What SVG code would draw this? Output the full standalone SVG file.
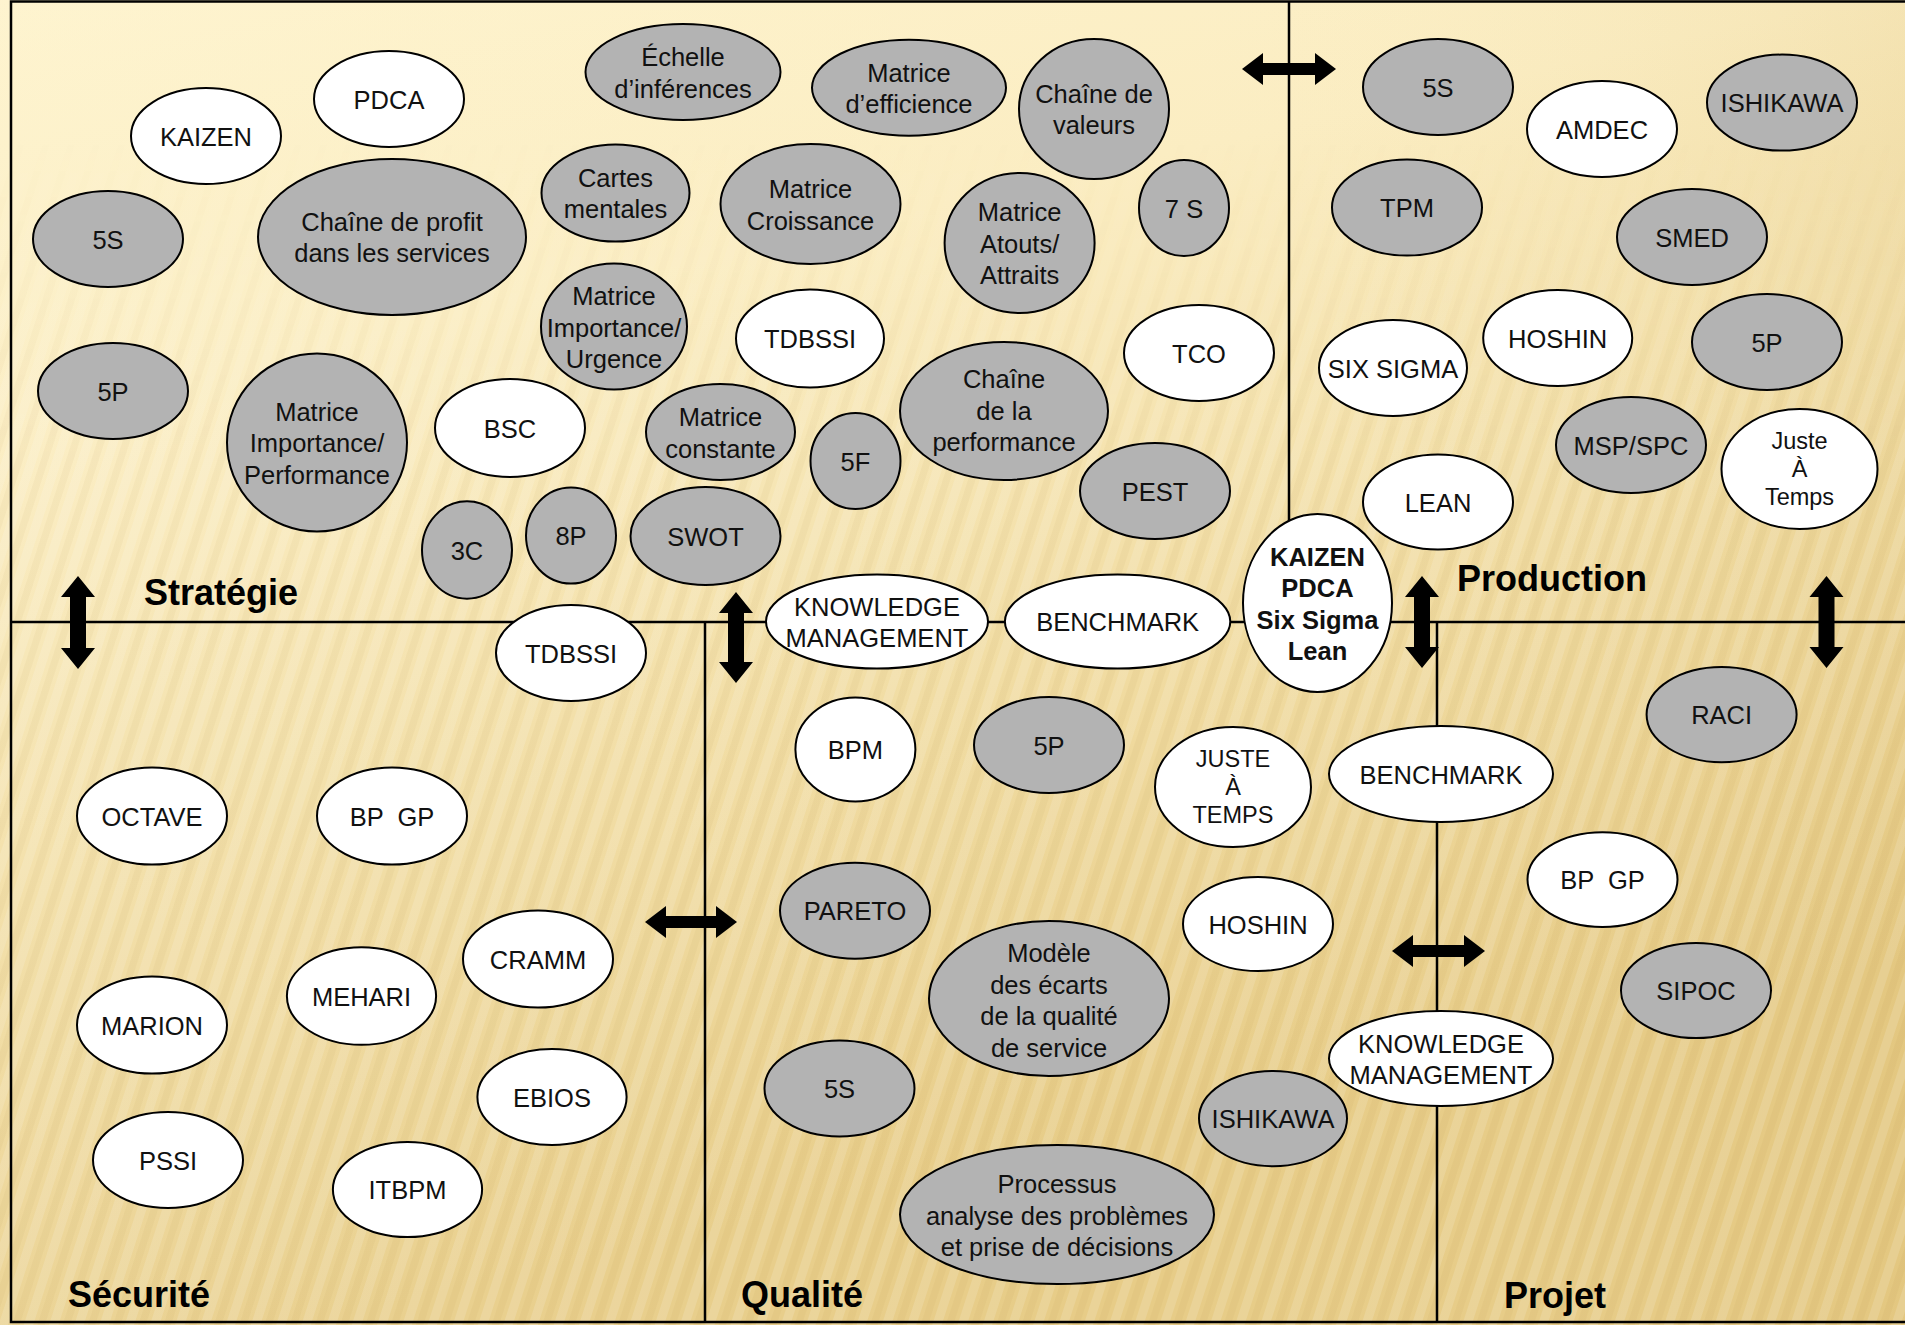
<svg xmlns="http://www.w3.org/2000/svg" width="1905" height="1325" viewBox="0 0 1905 1325">
<style>
.w{fill:#ffffff;stroke:#000;stroke-width:2}
.g{fill:#b3b3b3;stroke:#000;stroke-width:2}
.t{font-family:"Liberation Sans",Arial,sans-serif;font-size:25.5px;fill:#111;text-anchor:middle}
.s{font-size:23.5px}
.b{font-weight:bold}
.lbl{font-family:"Liberation Sans",Arial,sans-serif;font-size:36px;font-weight:bold;fill:#000}
.ln{stroke:#000;stroke-width:2.5;fill:none}
.ar{fill:#000;stroke:none}
</style>
<defs>
<linearGradient id="bg" x1="0" y1="0" x2="300" y2="1325" gradientUnits="userSpaceOnUse">
<stop offset="0" stop-color="#fef3cd"/>
<stop offset="0.3" stop-color="#fbedc2"/>
<stop offset="0.65" stop-color="#f1dca2"/>
<stop offset="1" stop-color="#e7cc87"/>
</linearGradient>
<linearGradient id="side" x1="0" y1="0" x2="1905" y2="0" gradientUnits="userSpaceOnUse">
<stop offset="0" stop-color="#fff8dc" stop-opacity="0.15"/>
<stop offset="0.6" stop-color="#fff8dc" stop-opacity="0"/>
<stop offset="1" stop-color="#c9a450" stop-opacity="0.12"/>
</linearGradient>
<pattern id="stripes" width="24" height="24" patternUnits="userSpaceOnUse" patternTransform="rotate(18)">
<rect x="0" y="0" width="9" height="24" fill="#ffffff" opacity="0.14"/>
<rect x="13" y="0" width="7" height="24" fill="#a57d25" opacity="0.05"/>
</pattern>
<linearGradient id="fade" x1="0" y1="0" x2="0" y2="1325" gradientUnits="userSpaceOnUse">
<stop offset="0" stop-color="#fff" stop-opacity="0"/>
<stop offset="0.1" stop-color="#fff" stop-opacity="0"/>
<stop offset="0.35" stop-color="#fff" stop-opacity="1"/>
<stop offset="1" stop-color="#fff" stop-opacity="1"/>
</linearGradient>
<mask id="m"><rect width="1905" height="1325" fill="url(#fade)"/></mask>
</defs>

<g id="background">
<rect width="1905" height="1325" fill="url(#bg)"/>
<rect width="1905" height="1325" fill="url(#side)"/>
<rect width="1905" height="1325" fill="url(#stripes)" mask="url(#m)"/>
</g>

<g id="frame">
<rect class="ln" x="11" y="1.5" width="1896" height="1320.5"/>
<line class="ln" x1="11" y1="622" x2="1905" y2="622"/>
<line class="ln" x1="1289" y1="1" x2="1289" y2="622"/>
<line class="ln" x1="705" y1="622" x2="705" y2="1322"/>
<line class="ln" x1="1437" y1="622" x2="1437" y2="1322"/>
</g>

<g id="connectors">
<polygon class="ar" points="1242,69 1263,53 1263,63 1315,63 1315,53 1336,69 1315,85 1315,75 1263,75 1263,85"/>
<polygon class="ar" points="645,922 666,906 666,916 716,916 716,906 737,922 716,938 716,928 666,928 666,938"/>
<polygon class="ar" points="1392,951 1413,935 1413,945 1464,945 1464,935 1485,951 1464,967 1464,957 1413,957 1413,967"/>
<polygon class="ar" points="78,576 95,597 86,597 86,648 95,648 78,669 61,648 70,648 70,597 61,597"/>
<polygon class="ar" points="736,592 753,613 744,613 744,662 753,662 736,683 719,662 728,662 728,613 719,613"/>
<polygon class="ar" points="1422,576 1439,597 1430,597 1430,647 1439,647 1422,668 1405,647 1414,647 1414,597 1405,597"/>
<polygon class="ar" points="1826.5,576 1843.5,597 1834.5,597 1834.5,647 1843.5,647 1826.5,668 1809.5,647 1818.5,647 1818.5,597 1809.5,597"/>
</g>

<g id="labels">
<text class="lbl" x="144" y="605">Stratégie</text>
<text class="lbl" x="1457" y="591">Production</text>
<text class="lbl" x="68" y="1307">Sécurité</text>
<text class="lbl" x="741" y="1307">Qualité</text>
<text class="lbl" x="1504" y="1308">Projet</text>
</g>

<g id="nodes">
<g id="n-kaizen-s"><ellipse class="w" cx="206" cy="136" rx="75" ry="48"/><text class="t" x="206" y="145.5">KAIZEN</text></g>
<g id="n-pdca-s"><ellipse class="w" cx="389" cy="99" rx="75" ry="48"/><text class="t" x="389" y="108.5">PDCA</text></g>
<g id="n-5s-s"><ellipse class="g" cx="108" cy="239" rx="75" ry="48"/><text class="t" x="108" y="248.5">5S</text></g>
<g id="n-chaine-profit"><ellipse class="g" cx="392" cy="237" rx="134" ry="78"/><text class="t" x="392"><tspan x="392" y="230.5">Chaîne de profit</tspan><tspan x="392" y="262">dans les services</tspan></text></g>
<g id="n-cartes"><ellipse class="g" cx="615.5" cy="193" rx="74" ry="48.5"/><text class="t"><tspan x="615.5" y="186.5">Cartes</tspan><tspan x="615.5" y="218">mentales</tspan></text></g>
<g id="n-mat-imp-urg"><ellipse class="g" cx="614" cy="326.5" rx="73" ry="63"/><text class="t"><tspan x="614" y="305">Matrice</tspan><tspan x="614" y="336.5">Importance/</tspan><tspan x="614" y="368">Urgence</tspan></text></g>
<g id="n-5p-s"><ellipse class="g" cx="113" cy="391" rx="75" ry="48"/><text class="t" x="113" y="400.5">5P</text></g>
<g id="n-mat-imp-perf"><ellipse class="g" cx="317" cy="442.5" rx="90" ry="89"/><text class="t"><tspan x="317" y="421">Matrice</tspan><tspan x="317" y="452">Importance/</tspan><tspan x="317" y="483.5">Performance</tspan></text></g>
<g id="n-bsc"><ellipse class="w" cx="510" cy="428" rx="75" ry="49"/><text class="t" x="510" y="437.5">BSC</text></g>
<g id="n-3c"><ellipse class="g" cx="467" cy="550" rx="45" ry="48.7"/><text class="t" x="467" y="559.5">3C</text></g>
<g id="n-8p"><ellipse class="g" cx="571" cy="535.6" rx="45" ry="48"/><text class="t" x="571" y="545">8P</text></g>
<g id="n-echelle"><ellipse class="g" cx="683" cy="72" rx="97.5" ry="48"/><text class="t"><tspan x="683" y="66">Échelle</tspan><tspan x="683" y="97.5">d’inférences</tspan></text></g>
<g id="n-mat-eff"><ellipse class="g" cx="909" cy="87.7" rx="97" ry="48"/><text class="t"><tspan x="909" y="81.5">Matrice</tspan><tspan x="909" y="113">d’efficience</tspan></text></g>
<g id="n-chaine-val"><ellipse class="g" cx="1094" cy="109" rx="75" ry="70"/><text class="t"><tspan x="1094" y="102.5">Chaîne de</tspan><tspan x="1094" y="134">valeurs</tspan></text></g>
<g id="n-mat-croiss"><ellipse class="g" cx="810.5" cy="204" rx="90" ry="60"/><text class="t"><tspan x="810.5" y="198">Matrice</tspan><tspan x="810.5" y="229.5">Croissance</tspan></text></g>
<g id="n-7s"><ellipse class="g" cx="1184" cy="208" rx="45" ry="48"/><text class="t" x="1184" y="217.5">7 S</text></g>
<g id="n-mat-atouts"><ellipse class="g" cx="1019.6" cy="243" rx="75" ry="70"/><text class="t"><tspan x="1019.6" y="221">Matrice</tspan><tspan x="1019.6" y="252.5">Atouts/</tspan><tspan x="1019.6" y="284">Attraits</tspan></text></g>
<g id="n-tdbssi-s"><ellipse class="w" cx="810" cy="338.5" rx="74" ry="49"/><text class="t" x="810" y="348">TDBSSI</text></g>
<g id="n-tco"><ellipse class="w" cx="1199" cy="353" rx="75" ry="48"/><text class="t" x="1199" y="362.5">TCO</text></g>
<g id="n-chaine-perf"><ellipse class="g" cx="1004" cy="411" rx="104" ry="69"/><text class="t"><tspan x="1004" y="388">Chaîne</tspan><tspan x="1004" y="419.5">de la</tspan><tspan x="1004" y="451">performance</tspan></text></g>
<g id="n-mat-const"><ellipse class="g" cx="720.5" cy="432" rx="74.5" ry="48"/><text class="t"><tspan x="720.5" y="426">Matrice</tspan><tspan x="720.5" y="457.5">constante</tspan></text></g>
<g id="n-5f"><ellipse class="g" cx="855.5" cy="461" rx="45" ry="48"/><text class="t" x="855.5" y="470.5">5F</text></g>
<g id="n-pest"><ellipse class="g" cx="1155" cy="491" rx="75" ry="48"/><text class="t" x="1155" y="500.5">PEST</text></g>
<g id="n-swot"><ellipse class="g" cx="705.5" cy="536" rx="75" ry="49"/><text class="t" x="705.5" y="545.5">SWOT</text></g>

<g id="n-5s-p"><ellipse class="g" cx="1438" cy="87" rx="75" ry="48"/><text class="t" x="1438" y="96.5">5S</text></g>
<g id="n-amdec"><ellipse class="w" cx="1602" cy="129" rx="75" ry="48"/><text class="t" x="1602" y="138.5">AMDEC</text></g>
<g id="n-ishikawa-p"><ellipse class="g" cx="1782" cy="102.6" rx="75" ry="48"/><text class="t" x="1782" y="112">ISHIKAWA</text></g>
<g id="n-tpm"><ellipse class="g" cx="1407" cy="207.6" rx="75" ry="48"/><text class="t" x="1407" y="217">TPM</text></g>
<g id="n-smed"><ellipse class="g" cx="1692" cy="237" rx="75" ry="48"/><text class="t" x="1692" y="246.5">SMED</text></g>
<g id="n-sixsigma"><ellipse class="w" cx="1393" cy="368" rx="74" ry="48"/><text class="t" x="1393" y="377.5">SIX SIGMA</text></g>
<g id="n-hoshin-p"><ellipse class="w" cx="1557.7" cy="338" rx="74.5" ry="48"/><text class="t" x="1557.7" y="347.5">HOSHIN</text></g>
<g id="n-5p-p"><ellipse class="g" cx="1767" cy="342" rx="75" ry="48"/><text class="t" x="1767" y="351.5">5P</text></g>
<g id="n-msp"><ellipse class="g" cx="1631" cy="445" rx="75" ry="48"/><text class="t" x="1631" y="454.5">MSP/SPC</text></g>
<g id="n-jat-p"><ellipse class="w" cx="1799.5" cy="469" rx="78" ry="60"/><text class="t s"><tspan x="1799.5" y="449">Juste</tspan><tspan x="1799.5" y="477">À</tspan><tspan x="1799.5" y="505">Temps</tspan></text></g>
<g id="n-lean"><ellipse class="w" cx="1438" cy="502" rx="75" ry="47.5"/><text class="t" x="1438" y="511.5">LEAN</text></g>

<g id="n-km-top"><ellipse class="w" cx="877" cy="621.5" rx="111" ry="47"/><text class="t"><tspan x="877" y="616">KNOWLEDGE</tspan><tspan x="877" y="647">MANAGEMENT</tspan></text></g>
<g id="n-bench-top"><ellipse class="w" cx="1117.6" cy="621.5" rx="112.7" ry="47"/><text class="t" x="1117.6" y="631">BENCHMARK</text></g>
<g id="n-kaizen-center"><ellipse class="w" cx="1317.5" cy="603" rx="74.5" ry="89"/><text class="t b"><tspan x="1317.5" y="566">KAIZEN</tspan><tspan x="1317.5" y="597.3">PDCA</tspan><tspan x="1317.5" y="628.6">Six Sigma</tspan><tspan x="1317.5" y="660">Lean</tspan></text></g>

<g id="n-tdbssi-sec"><ellipse class="w" cx="571" cy="653" rx="75" ry="48"/><text class="t" x="571" y="662.5">TDBSSI</text></g>
<g id="n-octave"><ellipse class="w" cx="152" cy="816" rx="75" ry="48.5"/><text class="t" x="152" y="825.5">OCTAVE</text></g>
<g id="n-bpgp-sec"><ellipse class="w" cx="392" cy="816" rx="75" ry="48.5"/><text class="t" x="392" y="825.5" xml:space="preserve">BP  GP</text></g>
<g id="n-cramm"><ellipse class="w" cx="538" cy="959" rx="75" ry="48.5"/><text class="t" x="538" y="968.5">CRAMM</text></g>
<g id="n-mehari"><ellipse class="w" cx="361.5" cy="996" rx="74.6" ry="48.8"/><text class="t" x="361.5" y="1005.5">MEHARI</text></g>
<g id="n-marion"><ellipse class="w" cx="152" cy="1025" rx="75" ry="48.5"/><text class="t" x="152" y="1034.5">MARION</text></g>
<g id="n-ebios"><ellipse class="w" cx="552" cy="1097" rx="74.6" ry="48"/><text class="t" x="552" y="1106.5">EBIOS</text></g>
<g id="n-pssi"><ellipse class="w" cx="168" cy="1160" rx="75" ry="48"/><text class="t" x="168" y="1169.5">PSSI</text></g>
<g id="n-itbpm"><ellipse class="w" cx="407.5" cy="1189.5" rx="74.6" ry="47.6"/><text class="t" x="407.5" y="1199">ITBPM</text></g>

<g id="n-bpm"><ellipse class="w" cx="855.4" cy="749.5" rx="60" ry="52"/><text class="t" x="855.4" y="759">BPM</text></g>
<g id="n-5p-q"><ellipse class="g" cx="1049" cy="745" rx="75" ry="48"/><text class="t" x="1049" y="754.5">5P</text></g>
<g id="n-jat-q"><ellipse class="w" cx="1233" cy="787" rx="78" ry="60"/><text class="t s"><tspan x="1233" y="767">JUSTE</tspan><tspan x="1233" y="795">À</tspan><tspan x="1233" y="823">TEMPS</tspan></text></g>
<g id="n-pareto"><ellipse class="g" cx="855" cy="910.7" rx="75" ry="48"/><text class="t" x="855" y="920">PARETO</text></g>
<g id="n-hoshin-q"><ellipse class="w" cx="1258" cy="924" rx="75" ry="47"/><text class="t" x="1258" y="933.5">HOSHIN</text></g>
<g id="n-modele"><ellipse class="g" cx="1049" cy="998.5" rx="120" ry="77.6"/><text class="t"><tspan x="1049" y="962">Modèle</tspan><tspan x="1049" y="993.5">des écarts</tspan><tspan x="1049" y="1025">de la qualité</tspan><tspan x="1049" y="1056.5">de service</tspan></text></g>
<g id="n-5s-q"><ellipse class="g" cx="839.5" cy="1088.5" rx="75" ry="48"/><text class="t" x="839.5" y="1098">5S</text></g>
<g id="n-ishikawa-q"><ellipse class="g" cx="1273" cy="1118.6" rx="74" ry="47.6"/><text class="t" x="1273" y="1128">ISHIKAWA</text></g>
<g id="n-processus"><ellipse class="g" cx="1057" cy="1214.6" rx="157" ry="69.5"/><text class="t"><tspan x="1057" y="1193">Processus</tspan><tspan x="1057" y="1224.5">analyse des problèmes</tspan><tspan x="1057" y="1256">et prise de décisions</tspan></text></g>

<g id="n-bench-proj"><ellipse class="w" cx="1441" cy="774" rx="112" ry="48"/><text class="t" x="1441" y="783.5">BENCHMARK</text></g>
<g id="n-km-proj"><ellipse class="w" cx="1441" cy="1058.6" rx="112" ry="47.5"/><text class="t"><tspan x="1441" y="1052.6">KNOWLEDGE</tspan><tspan x="1441" y="1083.6">MANAGEMENT</tspan></text></g>
<g id="n-raci"><ellipse class="g" cx="1721.6" cy="714.6" rx="75" ry="47.6"/><text class="t" x="1721.6" y="724">RACI</text></g>
<g id="n-bpgp-proj"><ellipse class="w" cx="1602.5" cy="879.6" rx="75" ry="47.3"/><text class="t" x="1602.5" y="889" xml:space="preserve">BP  GP</text></g>
<g id="n-sipoc"><ellipse class="g" cx="1696" cy="990.5" rx="75" ry="47.6"/><text class="t" x="1696" y="1000">SIPOC</text></g>
</g>
</svg>
